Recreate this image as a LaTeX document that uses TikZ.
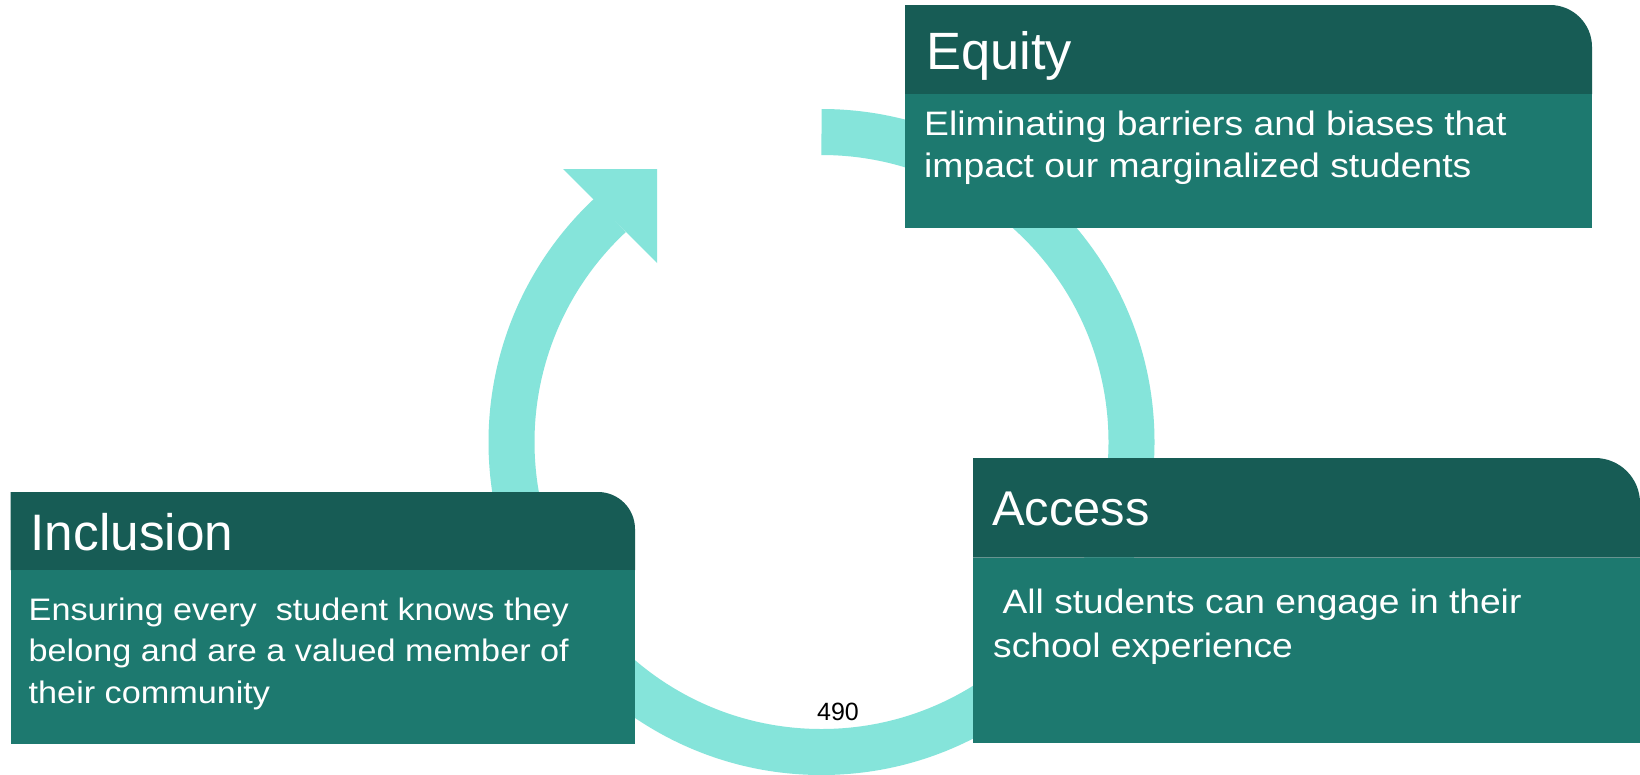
\documentclass[tikz,border=0pt]{standalone}
\usepackage{fontspec}
\setmainfont{Liberation Sans}
\newfontfamily\bodyfont[FakeStretch=1.1]{Liberation Sans}
\definecolor{hdr}{HTML}{175C55}
\definecolor{bdy}{HTML}{1D796F}
\definecolor{ringc}{HTML}{85E4DA}
\begin{document}
\begin{tikzpicture}[x=1pt,y=-1pt,
  hdrfill/.style={fill=hdr},
  bodyfill/.style={fill=bdy},
  ringline/.style={draw=ringc, line width=46pt},
  titletext/.style={anchor=base west, inner sep=0pt, text=white},
  bodytext/.style={anchor=base west, inner sep=0pt, text=white}]
\useasboundingbox (0,0) rectangle (1640,774);
\fill[white] (0,0) rectangle (1640,774);
% cycle ring
\coordinate (c) at (821.5,442);
\draw[ringline] ([shift={(-90:310)}]c) arc[start angle=-90,end angle=227,radius=310];
\fill[ringc] (563,169) -- (657,169) -- (657,263) -- cycle;
% Equity box
\fill[hdrfill] (905,94) -- (905,5) -- (1550,5) arc[start angle=-90,end angle=0,radius=42] -- (1592,94) -- cycle;
\fill[bodyfill] (905,94) rectangle (1592,228);
% Access box
\fill[hdrfill] (973,557.5) -- (973,458) -- (1595,458) arc[start angle=-90,end angle=0,radius=45] -- (1640,557.5) -- cycle;
\fill[bodyfill] (973,557.5) rectangle (1640,743);
% Inclusion box
\fill[hdrfill] (10.5,570) -- (10.5,492) -- (598,492) arc[start angle=-90,end angle=0,radius=37] -- (635,570) -- cycle;
\fill[bodyfill] (10.5,570) rectangle (635,744);
% texts
\node[titletext, font=\fontsize{52.5}{60}\selectfont] (eqT) at (926,69.3) {Equity};
\node[bodytext, font=\bodyfont\fontsize{33.9}{42.5}\selectfont] (eqB) at (924,135) {\parbox[t]{660pt}{\raggedright Eliminating barriers and biases that\\impact our marginalized students}};
\node[titletext, font=\fontsize{48.8}{55}\selectfont] (acT) at (992,525) {Access};
\node[bodytext, font=\bodyfont\fontsize{33.8}{44.5}\selectfont] (acB) at (993,613.3) {\parbox[t]{640pt}{\raggedright\hspace*{0.28em}All students can engage in their\\school experience}};
\node[titletext, font=\fontsize{51.3}{60}\selectfont] (inT) at (30.5,550) {Inclusion};
\node[bodytext, font=\bodyfont\fontsize{31.1}{41.7}\selectfont] (inB) at (28.5,620) {\parbox[t]{600pt}{\raggedright Ensuring every~ student knows they\\belong and are a valued member of\\their community}};
\node[anchor=base, inner sep=0pt, text=black, font=\fontsize{25}{30}\selectfont] (pg) at (838,720) {490};
\end{tikzpicture}
\end{document}
